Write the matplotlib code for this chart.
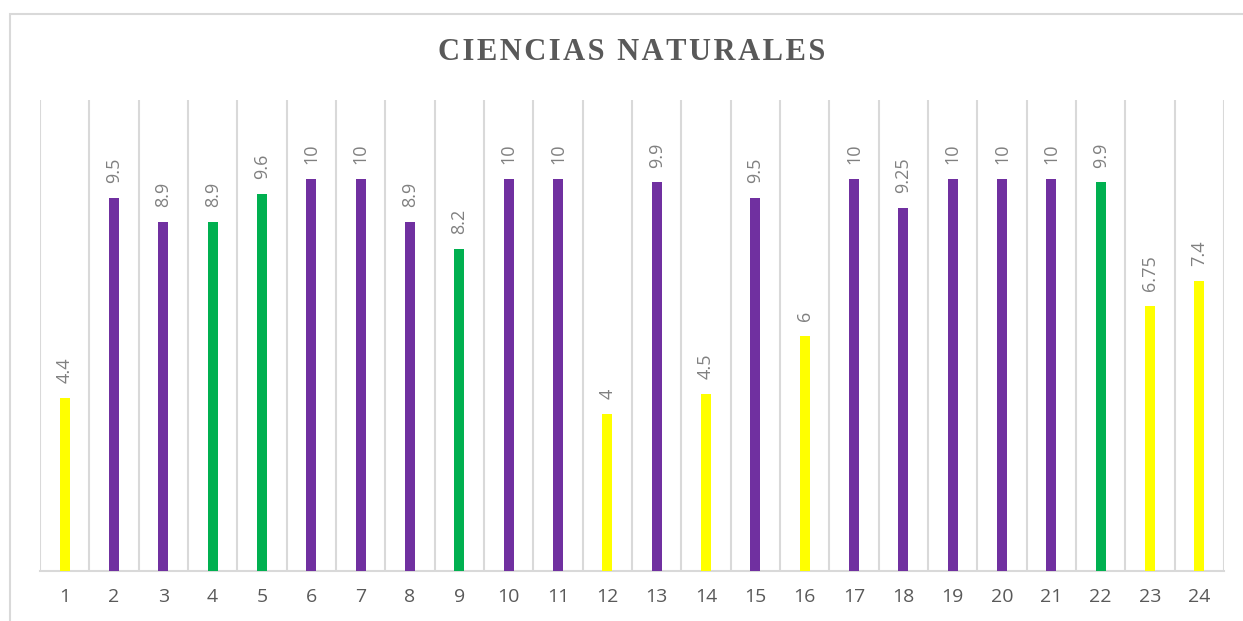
import matplotlib.pyplot as plt
from matplotlib.patches import Rectangle

# Data
students = [str(i) for i in range(1, 25)]
grades = [4.4, 9.5, 8.9, 8.9, 9.6, 10, 10, 8.9, 8.2, 10, 10, 4,
          9.9, 4.5, 9.5, 6, 10, 9.25, 10, 10, 10, 9.9, 6.75, 7.4]
grade_labels = ['4.4', '9.5', '8.9', '8.9', '9.6', '10', '10', '8.9', '8.2', '10', '10', '4',
                '9.9', '4.5', '9.5', '6', '10', '9.25', '10', '10', '10', '9.9', '6.75', '7.4']
bar_colors = ['#FFFF00', '#7030A0', '#7030A0', '#00B050', '#00B050', '#7030A0', '#7030A0', '#7030A0',
              '#00B050', '#7030A0', '#7030A0', '#FFFF00', '#7030A0', '#FFFF00', '#7030A0', '#FFFF00',
              '#7030A0', '#7030A0', '#7030A0', '#7030A0', '#7030A0', '#00B050', '#FFFF00', '#FFFF00']

fig = plt.figure(figsize=(12.43, 6.21), dpi=100)
ax = fig.add_axes([40 / 1243, 50 / 621, 1184 / 1243, 471 / 621])

# outer chart frame
fig.patches.append(Rectangle((10 / 1243, -0.1), 1.2, (621 - 14) / 621 + 0.1,
                             transform=fig.transFigure, fill=False,
                             edgecolor='#d9d9d9', linewidth=1.5))

x = range(len(students))
ax.bar(x, grades, width=0.2, color=bar_colors, zorder=3)

for i, v in enumerate(grades):
    ax.text(i, v + 0.38, grade_labels[i], rotation=90, ha='center', va='bottom',
            fontsize=13, color='#808080', family='Open Sans')

ax.set_xlim(-0.5, len(students) - 0.5)
ax.set_ylim(0, 12)
ax.set_yticks([])
ax.set_xticks(list(x))
ax.set_xticklabels(students, fontsize=14, color='#595959', family='Open Sans')
ax.tick_params(axis='x', length=0, pad=12)

# vertical gridlines between categories
for b in range(len(students) + 1):
    ax.axvline(b - 0.5, color='#d9d9d9', linewidth=1.5, zorder=1)

for side in ['top', 'left', 'right']:
    ax.spines[side].set_visible(False)
ax.spines['bottom'].set_color('#d9d9d9')
ax.spines['bottom'].set_linewidth(1.5)

title = '\u200a'.join('CIENCIAS NATURALES')
fig.text(632 / 1243, 1 - 52 / 621, title,
         ha='center', va='center', fontsize=22, fontweight='bold',
         color='#595959', family='Liberation Serif')

plt.savefig('out.png', dpi=100)
